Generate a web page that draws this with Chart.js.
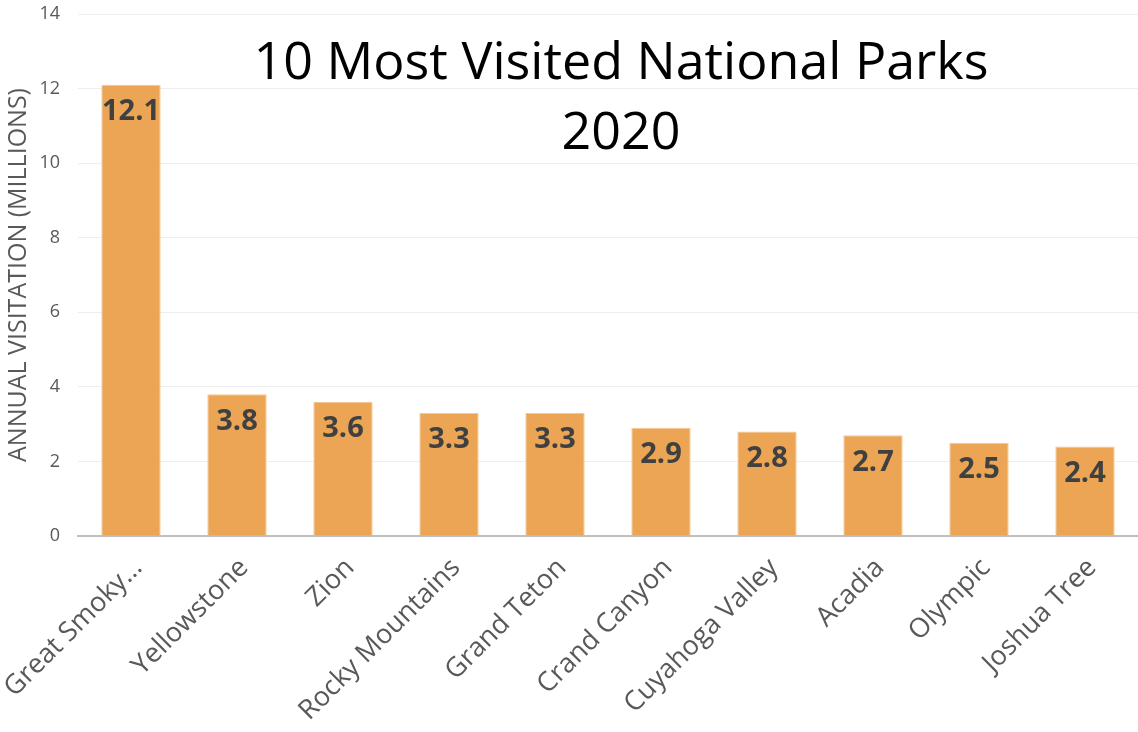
<!DOCTYPE html>
<html>
<head>
<meta charset="utf-8">
<script src="https://cdn.jsdelivr.net/npm/chart.js@4/dist/chart.umd.min.js"></script>
<style>
  html, body { margin: 0; padding: 0; background: #fff; }
  #wrap { width: 1138px; height: 732px; }
</style>
</head>
<body>
<div id="wrap"><canvas id="myChart"></canvas></div>
<script>
const parks = ['Great Smoky Mountains', 'Yellowstone', 'Zion', 'Rocky Mountains', 'Grand Teton',
  'Crand Canyon', 'Cuyahoga Valley', 'Acadia', 'Olympic', 'Joshua Tree'];
const visits = [12.1, 3.8, 3.6, 3.3, 3.3, 2.9, 2.8, 2.7, 2.5, 2.4];
const titleLines = ['10 Most Visited National Parks', '2020'];
const yTitle = 'ANNUAL VISITATION (MILLIONS)';

const FONT = '"Open Sans", "Noto Sans", sans-serif';

// labels sitting inside the top of each bar
const barLabels = {
  id: 'barLabels',
  afterDatasetsDraw(chart) {
    const { ctx } = chart;
    const meta = chart.getDatasetMeta(0);
    ctx.save();
    ctx.font = 'bold 29px ' + FONT;
    ctx.fillStyle = '#404040';
    ctx.textAlign = 'center';
    ctx.textBaseline = 'middle';
    meta.data.forEach((bar, i) => {
      ctx.fillText(visits[i].toFixed(1), bar.x, bar.y + 27);
    });
    ctx.restore();
  }
};

// big title drawn inside the plot area
const innerTitle = {
  id: 'innerTitle',
  afterDraw(chart) {
    const { ctx } = chart;
    ctx.save();
    ctx.font = '52px ' + FONT;
    ctx.fillStyle = '#000';
    ctx.textAlign = 'center';
    ctx.textBaseline = 'middle';
    ctx.fillText(titleLines[0], 621, 64);
    ctx.fillText(titleLines[1], 621, 134);
    ctx.restore();
  }
};

new Chart(document.getElementById('myChart'), {
  type: 'bar',
  data: {
    labels: parks,
    datasets: [{
      data: visits,
      backgroundColor: '#EBA555',
      borderColor: '#F6C78E',
      borderWidth: 1,
      barPercentage: 0.56,
      categoryPercentage: 1
    }]
  },
  options: {
    responsive: true,
    maintainAspectRatio: false,
    animation: false,
    layout: { padding: { top: 0, right: 0, left: 4, bottom: 0 } },
    plugins: {
      legend: { display: false },
      tooltip: { enabled: false }
    },
    scales: {
      x: {
        grid: { display: false, drawTicks: false },
        border: { color: '#BFBFBF', width: 2 },
        afterFit(axis) {
          axis.height = 196;
          axis.paddingLeft = 0;
          axis.paddingRight = 0;
        },
        ticks: {
          color: '#595959',
          font: { family: FONT, size: 27 },
          minRotation: 45,
          maxRotation: 45,
          padding: 16,
          labelOffset: 7,
          callback(v, i) {
            const s = parks[i];
            return s.length > 16 ? s.split(' ').slice(0, 2).join(' ') + '\u2026' : s;
          }
        }
      },
      y: {
        min: 0,
        max: 14,
        afterFit(axis) {
          axis.width = 74;
          axis.paddingTop = 14;
        },
        grid: { color: '#EEEEEE', lineWidth: 1, drawTicks: false },
        border: { display: false },
        ticks: {
          stepSize: 2,
          color: '#595959',
          font: { family: FONT, size: 18 },
          padding: 18
        },
        title: {
          display: true,
          text: yTitle,
          color: '#595959',
          font: { family: FONT, size: 25 },
          padding: { top: 0, bottom: 2 }
        }
      }
    }
  },
  plugins: [barLabels, innerTitle]
});
</script>
</body>
</html>
